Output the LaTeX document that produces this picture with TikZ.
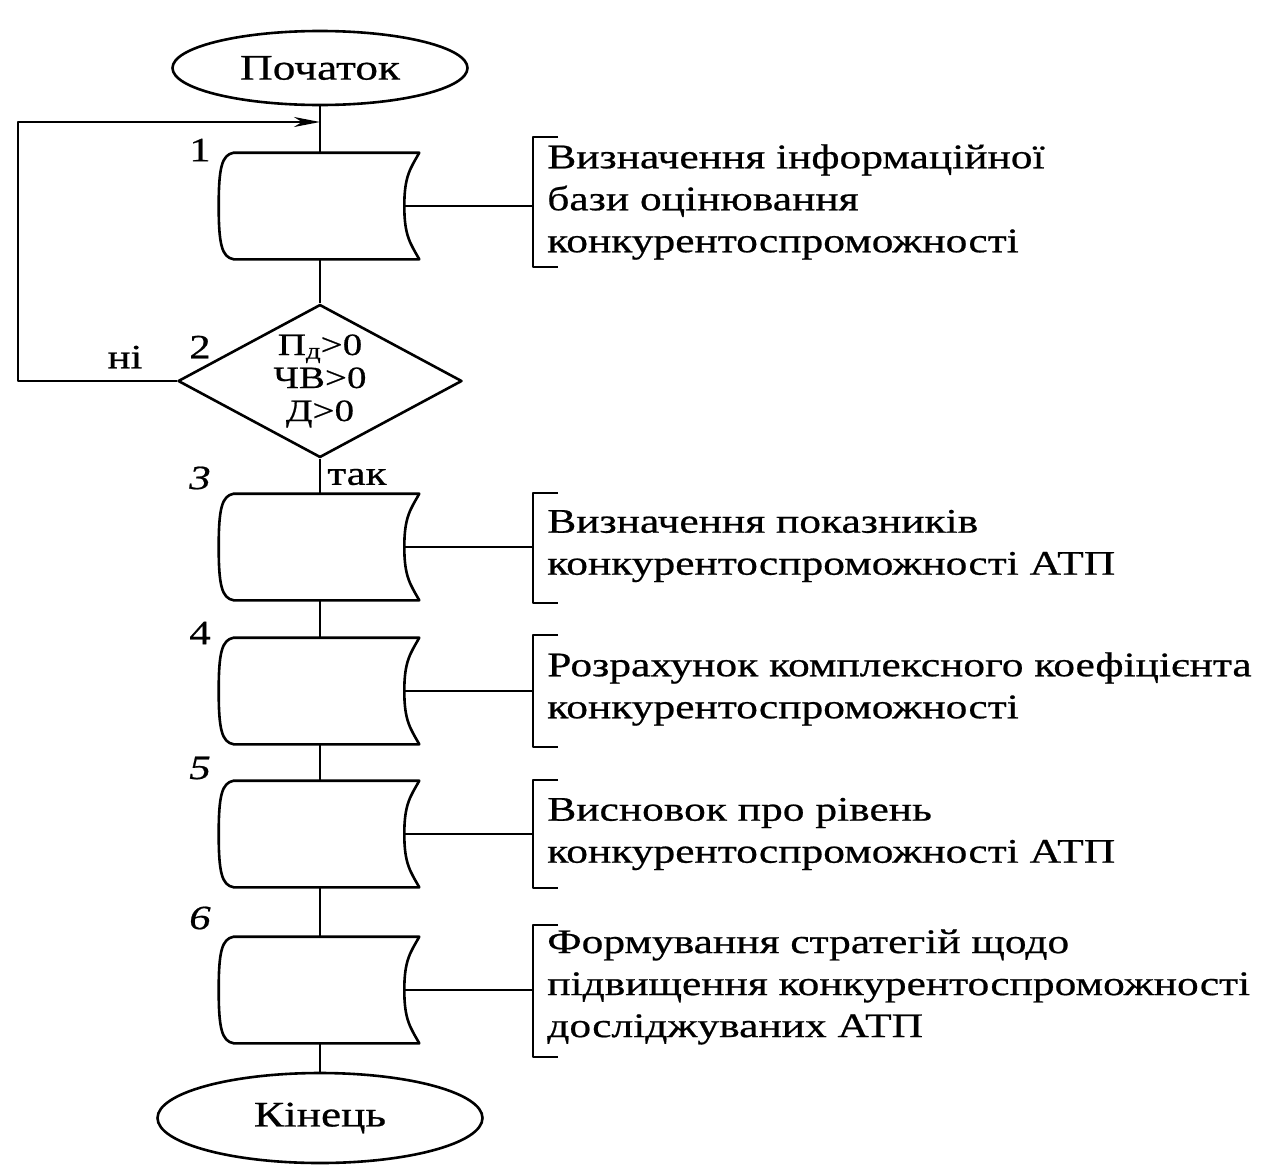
\documentclass[tikz,border=0pt]{standalone}
\usepackage{fontspec}
\setmainfont{Liberation Serif}[FakeStretch=1.26,FakeBold=0.6]
\usetikzlibrary{shapes.geometric,arrows.meta,calc}
\newcommand\drawstore[1]{%
  \draw ($(#1.north west)+(15,0)$) -- ($(#1.north east)+(15,0)$)
    .. controls +(-9,16) and +(0,-30) .. (#1.east)
    .. controls +(0,30) and +(-9,-16) .. ($(#1.south east)+(15,0)$)
    -- ($(#1.south west)+(15,0)$)
    .. controls +(-12,-2) and +(0,38) .. (#1.west)
    .. controls +(0,-38) and +(-12,2) .. ($(#1.north west)+(15,0)$);}
\newcommand\drawbrk[3]{%
  \draw ($(#1)+(25,#2)$) -- ($(#1)+(0,#2)$) -- ($(#1)+(0,#3)$) -- ($(#1)+(25,#3)$);}
\begin{document}
\begin{tikzpicture}[x=1pt,y=-1pt,line width=2.6pt,line join=round,
  store/.style={rectangle,minimum width=183pt,minimum height=104pt,inner sep=0pt},
  term/.style={ellipse,draw,inner sep=0pt,font=\fontsize{36}{40}\selectfont},
  decision/.style={diamond,draw,inner sep=0pt,minimum width=284pt,minimum height=153pt},
  condtext/.style={align=center,inner sep=0pt,font=\fontsize{31}{33}\selectfont},
  desc/.style={anchor=west,align=left,inner sep=0pt,font=\fontsize{34.5}{42}\selectfont},
  numlab/.style={inner sep=0pt,font=\fontsize{34}{36}\selectfont},
  arrowtip/.style={-{Stealth[length=26pt,width=10pt,inset=8pt]}}]
\useasboundingbox (0,0) rectangle (1261,1165);

% terminals
\node[term,minimum width=295pt,minimum height=74pt] (start) at (320,68) {Початок};
\node[term,minimum width=325pt,minimum height=90pt] (end) at (320,1118) {Кінець};

% process boxes
\node[store] (b1) at (311.5,206) {};
\node[decision] (d2) at (320,381) {};
\node[condtext] (d2t) at (d2.center) {П\raisebox{-0.25ex}{\fontsize{23}{23}\selectfont д}>0\\ЧВ>0\\Д>0};
\node[store] (b3) at (311.5,547) {};
\node[store] (b4) at (311.5,691) {};
\node[store] (b5) at (311.5,834) {};
\node[store] (b6) at (311.5,990) {};
\foreach \b in {b1,b3,b4,b5,b6} {\drawstore{\b}}

% spine
\draw (start.south) -- (b1.north -| start.south);
\draw (b1.south -| start.south) -- (d2.north);
\draw (d2.south) -- (b3.north -| d2.south);
\draw (b3.south -| d2.south) -- (b4.north -| d2.south);
\draw (b4.south -| d2.south) -- (b5.north -| d2.south);
\draw (b5.south -| d2.south) -- (b6.north -| d2.south);
\draw (b6.south -| d2.south) -- (end.north);

% loop back
\coordinate (loopbl) at (18,381);
\coordinate (looptl) at (18,122);
\coordinate (loopin) at (320,122);
\draw[arrowtip] (d2.west) -- (loopbl) -- (looptl) -- (loopin);

% labels
\node[numlab] (n1) at (200,150) {1};
\node[numlab] (n2) at (200,347) {2};
\node[numlab] (no) at (125,357) {ні};
\node[numlab] (yes) at (357,477) {так};
\node[numlab,font=\fontsize{34}{36}\selectfont\itshape] (n3) at (200,478) {3};
\node[numlab] (n4) at (200,633) {4};
\node[numlab,font=\fontsize{34}{36}\selectfont\itshape] (n5) at (200,768) {5};
\node[numlab,font=\fontsize{34}{36}\selectfont\itshape] (n6) at (200,918) {6};

% brackets and descriptions
\coordinate (k1) at (533,204);
\coordinate (k3) at (533,545);
\coordinate (k4) at (533,687);
\coordinate (k5) at (533,833);
\coordinate (k6) at (533,985);
\draw (b1.east) -- (b1.east -| k1);
\draw (b3.east) -- (b3.east -| k3);
\draw (b4.east) -- (b4.east -| k4);
\draw (b5.east) -- (b5.east -| k5);
\draw (b6.east) -- (b6.east -| k6);
\drawbrk{k1}{-67}{63}
\drawbrk{k3}{-52}{58}
\drawbrk{k4}{-52}{60}
\drawbrk{k5}{-53}{55}
\drawbrk{k6}{-60}{72}

\node[desc] (t1) at (546,202) {Визначення інформаційної\\бази оцінювання\\конкурентоспроможності};
\node[desc] (t3) at (546,546) {Визначення показників\\конкурентоспроможності АТП};
\node[desc] (t4) at (546,689) {Розрахунок комплексного коефіцієнта\\конкурентоспроможності};
\node[desc] (t5) at (546,834) {Висновок про рівень\\конкурентоспроможності АТП};
\node[desc] (t6) at (546,987) {Формування стратегій щодо\\підвищення конкурентоспроможності\\досліджуваних АТП};
\end{tikzpicture}
\end{document}
